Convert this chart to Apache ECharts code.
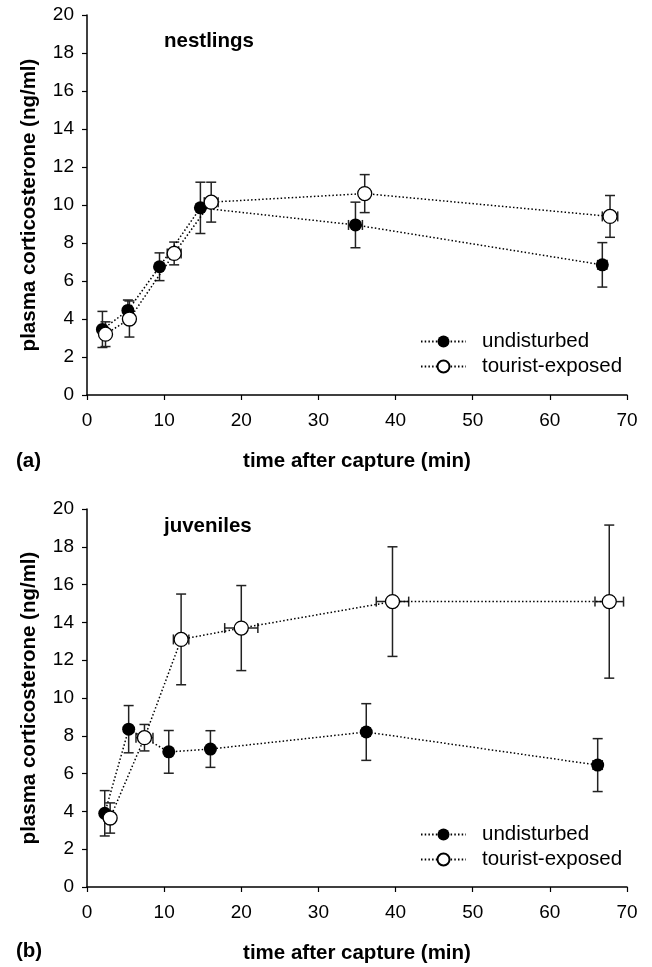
<!DOCTYPE html>
<html lang="en">
<head>
    <meta charset="UTF-8">
    <title>plasma corticosterone</title>
    <style type="text/css">
        *{ margin: 0; padding: 0; }
        #main{ width: 652px; height: 967px; }
    </style>
</head>
<body>
<div id="main"></div>
<script src="https://cdn.jsdelivr.net/npm/echarts@6/dist/echarts.min.js"></script>
<script>
    // (a) nestlings
    var nestUX = [2.0, 5.3, 9.4, 14.7, 34.8, 66.8];
    var nestUY = [3.45, 4.45, 6.75, 9.85, 8.95, 6.85];
    var nestUYerr = [0.95, 0.55, 0.73, 1.35, 1.2, 1.17];
    var nestUXerr = [0.3, 0.4, 0.4, 0.5, 0.9, 0.6];

    var nestTX = [2.4, 5.5, 11.3, 16.1, 36.0, 67.8];
    var nestTY = [3.2, 4.0, 7.45, 10.15, 10.6, 9.4];
    var nestTYerr = [0.65, 0.95, 0.6, 1.05, 1.0, 1.1];
    var nestTXerr = [0.4, 0.4, 0.9, 0.9, 0.6, 1.0];

    // (b) juveniles
    var juvUX = [2.3, 5.4, 10.6, 16.0, 36.2, 66.2];
    var juvUY = [3.9, 8.35, 7.15, 7.3, 8.2, 6.45];
    var juvUYerr = [1.2, 1.25, 1.13, 0.97, 1.5, 1.4];
    var juvUXerr = [0.3, 0.3, 0.4, 0.4, 0.5, 0.6];

    var juvTX = [3.0, 7.45, 12.2, 20.0, 39.6, 67.7];
    var juvTY = [3.65, 7.9, 13.1, 13.7, 15.1, 15.1];
    var juvTYerr = [0.8, 0.7, 2.4, 2.25, 2.9, 4.05];
    var juvTXerr = [0.4, 1.1, 1.0, 2.15, 2.1, 1.85];

    var seriesNames = ['undisturbed', 'tourist-exposed'];
    var xTitle = 'time after capture (min)';
    var yTitle = 'plasma corticosterone (ng/ml)';

    var FONT = '"Liberation Sans", Arial, sans-serif';
    var INK = '#000';

    function pts(xs, ys) {
        var out = [];
        for (var i = 0; i < xs.length; i++) out.push([xs[i], ys[i]]);
        return out;
    }
    function errPts(xs, ys, xe, ye) {
        var out = [];
        for (var i = 0; i < xs.length; i++) out.push([xs[i], ys[i], xe[i], ye[i]]);
        return out;
    }

    // error bars (vertical + horizontal, with caps)
    function renderErr(params, api) {
        var x = api.value(0), y = api.value(1), xe = api.value(2), ye = api.value(3);
        var top = api.coord([x, y + ye]);
        var bot = api.coord([x, y - ye]);
        var lft = api.coord([x - xe, y]);
        var rgt = api.coord([x + xe, y]);
        var cap = 5;
        var st = { stroke: '#222', lineWidth: 1.5 };
        var lines = [
            [top[0], top[1], bot[0], bot[1]],
            [top[0] - cap, top[1], top[0] + cap, top[1]],
            [bot[0] - cap, bot[1], bot[0] + cap, bot[1]],
            [lft[0], lft[1], rgt[0], rgt[1]],
            [lft[0], lft[1] - cap, lft[0], lft[1] + cap],
            [rgt[0], rgt[1] - cap, rgt[0], rgt[1] + cap]
        ];
        return {
            type: 'group',
            children: lines.map(function (l) {
                return { type: 'line', shape: { x1: l[0], y1: l[1], x2: l[2], y2: l[3] }, style: st };
            })
        };
    }

    function errSeries(idx, data) {
        return {
            type: 'custom',
            xAxisIndex: idx, yAxisIndex: idx,
            renderItem: renderErr,
            data: data,
            z: 1,
            silent: true
        };
    }

    function lineSeries(idx, name, data, filled) {
        return {
            name: name,
            type: 'line',
            xAxisIndex: idx, yAxisIndex: idx,
            data: data,
            symbol: 'circle',
            symbolSize: filled ? 13 : 14,
            showAllSymbol: true,
            lineStyle: { color: INK, width: 1.5, type: [1.5, 2.2] },
            itemStyle: { color: filled ? INK : '#fff', borderColor: INK, borderWidth: filled ? 0 : 1.3 },
            z: 3,
            animation: false
        };
    }

    function xAx(idx) {
        return {
            gridIndex: idx,
            type: 'value',
            min: 0, max: 70, interval: 10,
            name: xTitle,
            nameLocation: 'middle',
            nameGap: 56,
            nameTextStyle: { fontFamily: FONT, fontSize: 20.5, fontWeight: 'bold', color: INK },
            axisLine: { lineStyle: { color: INK, width: 1.5 } },
            axisTick: { length: 5, lineStyle: { color: INK, width: 1.2 } },
            axisLabel: { fontFamily: FONT, fontSize: 19, color: INK, margin: 16 },
            splitLine: { show: false }
        };
    }
    function yAx(idx) {
        return {
            gridIndex: idx,
            type: 'value',
            min: 0, max: 20, interval: 2,
            name: yTitle,
            nameLocation: 'middle',
            nameGap: 47,
            nameTextStyle: { fontFamily: FONT, fontSize: 20.5, fontWeight: 'bold', color: INK },
            axisLine: { show: true, lineStyle: { color: INK, width: 1.5 } },
            axisTick: { show: true, length: 5, lineStyle: { color: INK, width: 1.2 } },
            axisLabel: { fontFamily: FONT, fontSize: 19, color: INK, margin: 13 },
            splitLine: { show: false }
        };
    }
    function legendAt(idx, top) {
        return {
            orient: 'vertical',
            left: 420, top: top,
            padding: 0,
            itemWidth: 45, itemHeight: 15,
            itemGap: 4,
            data: seriesNames.map(function (n) { return { name: n }; }),
            textStyle: { fontFamily: FONT, fontSize: 20.5, lineHeight: 20, color: INK, padding: [0, 0, 0, 11] },
            selectedMode: false
        };
    }

    var myChart = echarts.init(document.getElementById('main'));
    var option = {
        animation: false,
        backgroundColor: '#fff',
        grid: [
            { left: 87, top: 15, width: 540, height: 380 },
            { left: 87, top: 509, width: 540, height: 378 }
        ],
        xAxis: [xAx(0), xAx(1)],
        yAxis: [yAx(0), yAx(1)],
        legend: [legendAt(0, 331), legendAt(1, 824)],
        graphic: [
            { type: 'text', left: 164, top: 31, style: { text: 'nestlings', font: 'bold 20.5px ' + FONT, fill: INK } },
            { type: 'text', left: 164, top: 516, style: { text: 'juveniles', font: 'bold 20.5px ' + FONT, fill: INK } },
            { type: 'text', left: 16, top: 451, style: { text: '(a)', font: 'bold 20.5px ' + FONT, fill: INK } },
            { type: 'text', left: 16, top: 941, style: { text: '(b)', font: 'bold 20.5px ' + FONT, fill: INK } }
        ],
        series: [
            errSeries(0, errPts(nestUX, nestUY, nestUXerr, nestUYerr)),
            errSeries(0, errPts(nestTX, nestTY, nestTXerr, nestTYerr)),
            lineSeries(0, seriesNames[0], pts(nestUX, nestUY), true),
            lineSeries(0, seriesNames[1], pts(nestTX, nestTY), false),
            errSeries(1, errPts(juvUX, juvUY, juvUXerr, juvUYerr)),
            errSeries(1, errPts(juvTX, juvTY, juvTXerr, juvTYerr)),
            lineSeries(1, seriesNames[0], pts(juvUX, juvUY), true),
            lineSeries(1, seriesNames[1], pts(juvTX, juvTY), false)
        ]
    };
    myChart.setOption(option);
</script>
</body>
</html>
